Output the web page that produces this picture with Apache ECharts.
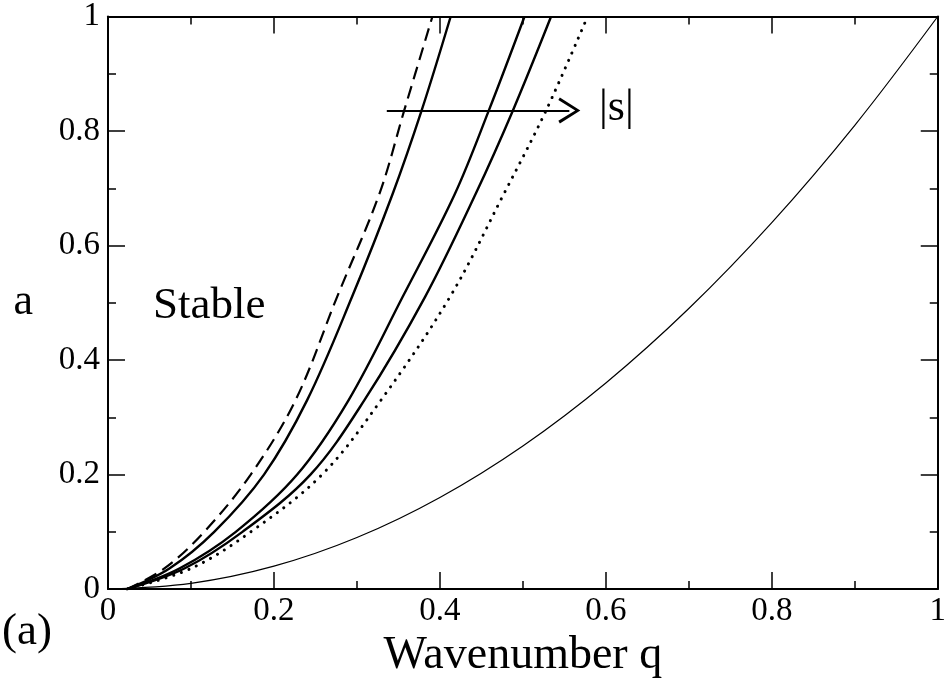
<!DOCTYPE html>
<html>
<head>
    <meta charset="utf-8">
    <title>Stability diagram</title>
    <script src="https://cdn.jsdelivr.net/npm/echarts/dist/echarts.min.js"></script>
    <style>
        html, body { margin: 0; padding: 0; background: #fff; }
        #chart { width: 949px; height: 684px; }
    </style>
</head>
<body>
<div id="chart"></div>
<script>
    // curves, [q, a]
    var curveDashed = [[0.023, 0], [0.068, 0.036], [0.116, 0.1], [0.172, 0.2], [0.226, 0.33],
        [0.276, 0.51], [0.327, 0.69], [0.357, 0.836], [0.391, 1.0]];
    var curveSolid1 = [[0.023, 0], [0.074, 0.036], [0.128, 0.1], [0.188, 0.2], [0.24, 0.33],
        [0.294, 0.51], [0.343, 0.69], [0.378, 0.836], [0.413, 1.0]];
    var curveSolid2 = [[0.023, 0], [0.086, 0.036], [0.154, 0.1], [0.228, 0.2], [0.29, 0.33],
        [0.355, 0.51], [0.418, 0.69], [0.459, 0.836], [0.502, 1.0]];
    var curveSolid3 = [[0.023, 0], [0.092, 0.036], [0.162, 0.1], [0.244, 0.2], [0.309, 0.33],
        [0.382, 0.51], [0.443, 0.69], [0.488, 0.836], [0.534, 1.0]];
    var curveDotted = [[0.023, 0], [0.1, 0.036], [0.172, 0.1], [0.258, 0.2], [0.329, 0.33],
        [0.412, 0.51], [0.477, 0.69], [0.528, 0.836], [0.578, 1.0]];
    var thinQ = [0, 0.1, 0.2, 0.3, 0.4, 0.5, 0.6, 0.7, 0.8, 0.9, 1.0];
    var thinA = [0, 0.01, 0.04, 0.09, 0.16, 0.25, 0.36, 0.49, 0.64, 0.81, 1.0];
    // arrow pointing toward growing |s|
    var arrowFrom = [0.336, 0.836];
    var arrowTo = [0.556, 0.836];

    var FONT = 'Liberation Serif';
    var chart = echarts.init(document.getElementById('chart'));

    var tickStyle = { color: '#000', width: 1.5 };
    function frameAxis(pos, isX, labels) {
        return {
            type: 'value',
            position: pos,
            min: 0,
            max: 1,
            interval: 0.2,
            axisLine: { show: true, onZero: false, lineStyle: { color: '#000', width: 2 } },
            axisTick: { show: true, inside: true, length: 17, lineStyle: tickStyle },
            minorTick: { show: true, splitNumber: 2, length: 8, lineStyle: tickStyle },
            splitLine: { show: false },
            axisLabel: {
                show: labels,
                color: '#000',
                fontFamily: FONT,
                fontSize: 33,
                margin: isX ? 6 : 8,
                showMaxLabel: true,
                showMinLabel: true
            }
        };
    }

    var xBottom = frameAxis('bottom', true, true);
    xBottom.name = 'Wavenumber q';
    xBottom.nameLocation = 'middle';
    xBottom.nameGap = 42;
    xBottom.nameTextStyle = { color: '#000', fontFamily: FONT, fontSize: 46 };

    var yLeft = frameAxis('left', false, true);
    yLeft.name = 'a';
    yLeft.nameLocation = 'middle';
    yLeft.nameRotate = 0;
    yLeft.nameGap = 75;
    yLeft.nameTextStyle = { color: '#000', fontFamily: FONT, fontSize: 44 };

    var xTop = frameAxis('top', true, false);
    var yRight = frameAxis('right', false, false);

    function curve(data, width, type) {
        return {
            type: 'line',
            data: data,
            showSymbol: false,
            smooth: 0.35,
            lineStyle: { color: '#000', width: width, type: type },
            silent: true
        };
    }

    var thinData = thinQ.map(function (q, i) { return [q, thinA[i]]; });

    var dotted = curve(curveDotted, 3, [0.1, 8]);
    dotted.lineStyle.cap = 'round';

    var option = {
        animation: false,
        backgroundColor: '#fff',
        grid: { left: 108, right: 7, top: 14, bottom: 86 },
        xAxis: [xBottom, xTop],
        yAxis: [yLeft, yRight],
        series: [
            curve(curveDashed, 2.2, [13, 7]),
            curve(curveSolid1, 2.4, 'solid'),
            curve(curveSolid2, 2.4, 'solid'),
            curve(curveSolid3, 2.4, 'solid'),
            dotted,
            curve(thinData, 1.2, 'solid'),
            {
                type: 'line',
                data: [],
                silent: true,
                markLine: {
                    silent: true,
                    symbol: ['none', 'path://M0,20 L12,0 L24,20 L21.5,21.5 L12,5 L2.5,21.5 Z'],
                    symbolSize: [26, 22],
                    symbolKeepAspect: false,
                    label: { show: false },
                    lineStyle: { color: '#000', width: 2, type: 'solid' },
                    data: [[{ coord: arrowFrom }, { coord: arrowTo }]]
                }
            }
        ],
        graphic: [
            { type: 'text', left: 153, top: 284, style: { text: 'Stable', font: '45px "Liberation Serif"', fill: '#000' } },
            { type: 'text', left: 599, top: 86, style: { text: '|s|', font: '44px "Liberation Serif"', fill: '#000' } },
            { type: 'text', left: 2, top: 610, style: { text: '(a)', font: '45px "Liberation Serif"', fill: '#000' } }
        ]
    };
    chart.setOption(option);

    window.onresize = function () {
        chart.resize();
    };
</script>
</body>
</html>
